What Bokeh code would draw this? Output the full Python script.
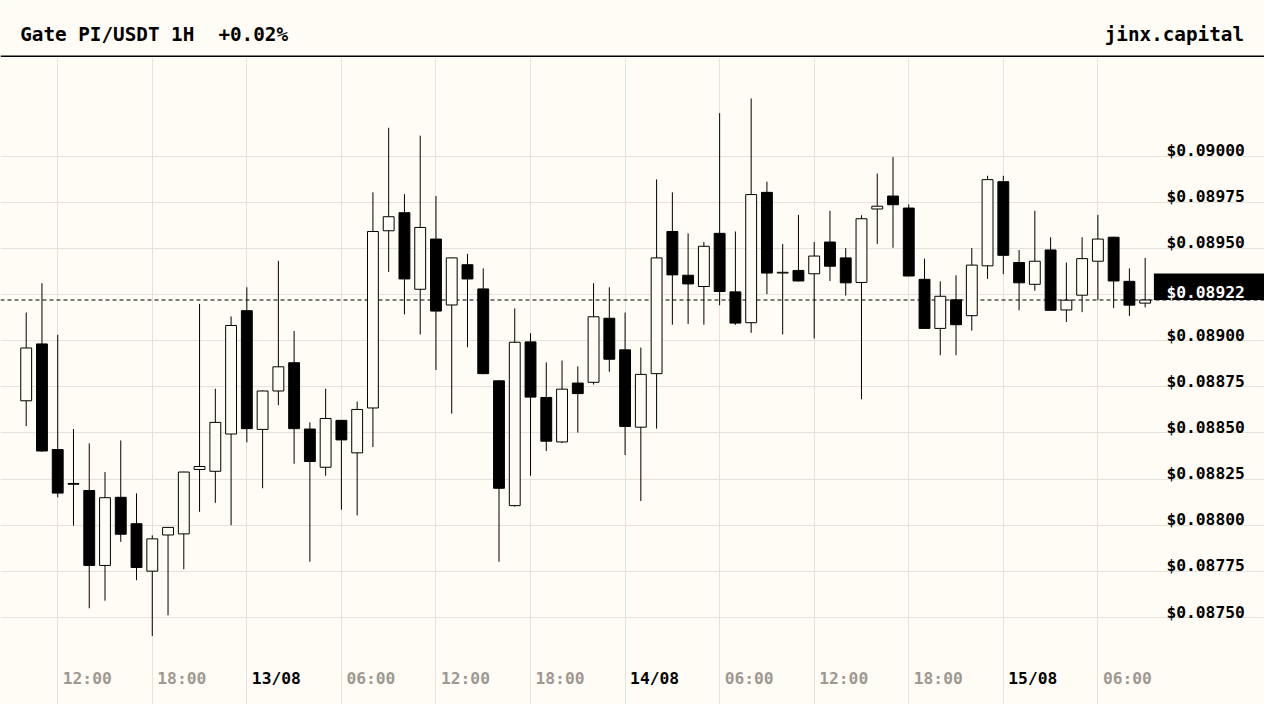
import pandas as pd
from bokeh.plotting import figure
from bokeh.models import Range1d, Grid, FixedTicker, Span, ColumnDataSource
from bokeh.layouts import column
from bokeh.core.properties import value
from bokeh.embed import file_html
from bokeh.resources import INLINE

# ---------------- data ----------------
TITLE = "Gate PI/USDT 1H"
CHANGE = "+0.02%"
BRAND = "jinx.capital"
START = "2025-08-12 10:00"

opens = [
    0.088674, 0.088982, 0.088410, 0.088226, 0.088188, 0.087782, 0.088151, 0.088008, 0.087751, 0.087947,
    0.087953, 0.088302, 0.088292, 0.088494, 0.089162, 0.088519, 0.088727, 0.088880, 0.088521, 0.088314,
    0.088568, 0.088392, 0.088635, 0.089595, 0.089693, 0.089278, 0.089550, 0.089193, 0.089411, 0.089280,
    0.088782, 0.088106, 0.088993, 0.088692, 0.088451, 0.088770, 0.088774, 0.089121, 0.088950, 0.088531,
    0.088821, 0.089591, 0.089354, 0.089293, 0.089581, 0.089264, 0.089097, 0.089803, 0.089366, 0.089380,
    0.089362, 0.089534, 0.089448, 0.089315, 0.089713, 0.089783, 0.089718, 0.089332, 0.089066, 0.089221,
    0.089135, 0.089405, 0.089861, 0.089423, 0.089305, 0.089491, 0.089166, 0.089246, 0.089430, 0.089560,
    0.089321, 0.089203,
]
highs = [
    0.089152, 0.089311, 0.089031, 0.088521, 0.088443, 0.088288, 0.088459, 0.088172, 0.087945, 0.087990,
    0.088290, 0.089199, 0.088739, 0.089131, 0.089289, 0.088730, 0.089432, 0.089052, 0.088557, 0.088739,
    0.088570, 0.088670, 0.089803, 0.090153, 0.089793, 0.090110, 0.089783, 0.089450, 0.089470, 0.089391,
    0.088785, 0.089174, 0.089040, 0.088882, 0.088892, 0.088860, 0.089311, 0.089289, 0.089152, 0.088962,
    0.089873, 0.089803, 0.089581, 0.089534, 0.090232, 0.089591, 0.090312, 0.089861, 0.089523, 0.089681,
    0.089534, 0.089703, 0.089501, 0.089679, 0.089905, 0.089995, 0.089738, 0.089444, 0.089321, 0.089354,
    0.089501, 0.089893, 0.089893, 0.089491, 0.089703, 0.089560, 0.089423, 0.089560, 0.089681, 0.089562,
    0.089391, 0.089448,
]
lows = [
    0.088537, 0.088398, 0.088151, 0.087998, 0.087550, 0.087591, 0.087910, 0.087702, 0.087400, 0.087512,
    0.087761, 0.088073, 0.088121, 0.088000, 0.088449, 0.088200, 0.088650, 0.088333, 0.087802, 0.088268,
    0.088084, 0.088053, 0.088423, 0.089372, 0.089142, 0.089033, 0.088841, 0.088604, 0.088964, 0.088818,
    0.087802, 0.088100, 0.088268, 0.088402, 0.088445, 0.088502, 0.088762, 0.088831, 0.088380, 0.088131,
    0.088523, 0.089086, 0.089090, 0.089086, 0.089191, 0.089086, 0.089042, 0.089252, 0.089033, 0.089321,
    0.089011, 0.089323, 0.089244, 0.088682, 0.089524, 0.089503, 0.089348, 0.089064, 0.088921, 0.088921,
    0.089054, 0.089334, 0.089360, 0.089164, 0.089270, 0.089162, 0.089101, 0.089154, 0.089219, 0.089176,
    0.089133, 0.089180,
]
closes = [
    0.088960, 0.088402, 0.088174, 0.088222, 0.087782, 0.088149, 0.087951, 0.087771, 0.087926, 0.087988,
    0.088288, 0.088318, 0.088557, 0.089082, 0.088523, 0.088727, 0.088858, 0.088523, 0.088345, 0.088578,
    0.088462, 0.088627, 0.089591, 0.089671, 0.089334, 0.089613, 0.089160, 0.089448, 0.089334, 0.088821,
    0.088200, 0.088991, 0.088694, 0.088455, 0.088737, 0.088713, 0.089129, 0.088899, 0.088535, 0.088817,
    0.089448, 0.089356, 0.089307, 0.089511, 0.089266, 0.089095, 0.089791, 0.089366, 0.089370, 0.089323,
    0.089458, 0.089403, 0.089313, 0.089660, 0.089728, 0.089736, 0.089350, 0.089066, 0.089240, 0.089086,
    0.089409, 0.089872, 0.089462, 0.089313, 0.089430, 0.089164, 0.089219, 0.089444, 0.089550, 0.089323,
    0.089192, 0.089220,
]
price_ticks = [0.08750, 0.08775, 0.08800, 0.08825, 0.08850, 0.08875,
               0.08900, 0.08925, 0.08950, 0.08975, 0.09000]

# ---------------- style / layout ----------------
BG = "#fffcf6"
GRID = "#e6e2db"
GRAY = "#9e9891"
FONT = value("DejaVu Sans Mono")
W = 1264
H = 704
HEAD_H = 57
CHART_H = H - HEAD_H
XS = 15.76            # px per candle
YS = 184600.0         # px per dollar
X0 = -25.7 / XS
X1 = X0 + W / XS
Y_TOP = 0.09 + 98.5 / YS
Y_BOT = Y_TOP - CHART_H / YS


def xpx(px):
    return X0 + px / XS


def ypx(py):
    return Y_TOP - py / YS


times = pd.date_range(START, periods=len(opens), freq="h")
idx = list(range(len(opens)))
up = [c >= o for o, c in zip(opens, closes)]

src = ColumnDataSource(dict(
    x=idx, open=opens, high=highs, low=lows, close=closes,
    top=[max(o, c) for o, c in zip(opens, closes)],
    bottom=[min(o, c) for o, c in zip(opens, closes)],
    fill=[BG if u else "black" for u in up],
))

# ---------------- header ----------------
head = figure(width=W, height=HEAD_H, x_range=Range1d(0, W), y_range=Range1d(0, HEAD_H),
              x_axis_location=None, y_axis_location=None, toolbar_location=None,
              output_backend="svg", min_border=0, outline_line_color=None,
              background_fill_color=BG, border_fill_color=BG)
head.grid.visible = False
HFS = value("19.3px")
head.text(x=[19.7], y=[HEAD_H - 34.2], text=[TITLE], text_font=FONT, text_font_style="bold",
          text_font_size=HFS, text_color="black", text_baseline="alphabetic",
          text_align="left")
head.text(x=[217.9], y=[HEAD_H - 34.2], text=[CHANGE], text_font=FONT, text_font_style="bold",
          text_font_size=HFS, text_color="black", text_baseline="alphabetic",
          text_align="left")
head.text(x=[1243.5], y=[HEAD_H - 34.2], text=[BRAND], text_font=FONT, text_font_style="bold",
          text_font_size=HFS, text_color="black", text_baseline="alphabetic",
          text_align="right")
head.quad(left=[0], right=[W], bottom=[0], top=[2], fill_color="black", line_color=None)

# ---------------- chart ----------------
p = figure(width=W, height=CHART_H, x_range=Range1d(X0, X1), y_range=Range1d(Y_BOT, Y_TOP),
           x_axis_location=None, y_axis_location=None, toolbar_location=None,
           output_backend="svg", min_border=0, outline_line_color=None,
           background_fill_color=BG, border_fill_color=BG)
p.grid.visible = False

xticks = [i for i, t in enumerate(times) if t.hour % 6 == 0]
xlabels = [times[i].strftime("%d/%m") if times[i].hour == 0 else times[i].strftime("%H:%M")
           for i in xticks]

p.add_layout(Grid(dimension=0, ticker=FixedTicker(ticks=xticks), grid_line_color=GRID,
                  grid_line_width=1))
p.add_layout(Grid(dimension=1, ticker=FixedTicker(ticks=price_ticks), grid_line_color=GRID,
                  grid_line_width=1))

last = closes[-1]
p.add_layout(Span(location=last, dimension="width", line_color="black", line_width=1,
                  line_dash="4 3", level="underlay"))

p.segment(x0="x", x1="x", y0="low", y1="high", source=src, line_color="black", line_width=1)
p.vbar(x="x", width=0.69, top="top", bottom="bottom", source=src, fill_color="fill",
       line_color="black", line_width=1)

AFS = value("16.3px")
# x labels
date_x = [t for t, l in zip(xticks, xlabels) if "/" in l]
date_l = [l for l in xlabels if "/" in l]
time_x = [t for t, l in zip(xticks, xlabels) if "/" not in l]
time_l = [l for l in xlabels if "/" not in l]
for xs_, ls_, col in ((time_x, time_l, GRAY), (date_x, date_l, "black")):
    p.text(x=xs_, y=[ypx(620.6)] * len(xs_), text=ls_, x_offset=5, text_font=FONT,
           text_font_style="bold", text_font_size=AFS, text_color=col,
           text_baseline="middle", text_align="left")

# y labels
p.text(x=[xpx(1244.3)] * len(price_ticks), y=[v + 5.4 / YS for v in price_ticks],
       text=[f"${v:.5f}" for v in price_ticks], text_font=FONT, text_font_style="bold",
       text_font_size=AFS, text_color="black", text_baseline="alphabetic",
       text_align="right")

# current price tag
p.quad(left=[xpx(1153.4)], right=[X1], bottom=[last], top=[last + 26.4 / YS],
       fill_color="black", line_color=None)
p.text(x=[xpx(1244.3)], y=[last + 7.3 / YS], text=[f"${last:.5f}"], text_font=FONT,
       text_font_style="bold", text_font_size=AFS, text_color="white",
       text_baseline="alphabetic", text_align="right")

layout = column(head, p, spacing=0)
open("out.html", "w").write(file_html(layout, INLINE))
